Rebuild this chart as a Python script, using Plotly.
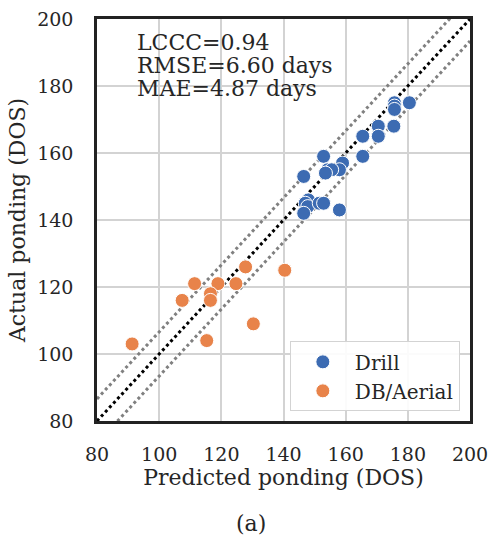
import plotly.graph_objects as go

drill_pred = [175.7, 175.7, 175.7, 180.5, 170.5, 175.5, 170.5, 165.5, 152.9, 165.5,
              159.0, 154.2, 158.0, 155.5, 146.5, 148.0, 147.0, 147.8, 151.5, 152.9,
              146.5, 158.0, 153.5]
drill_act = [175.0, 174.0, 173.0, 175.0, 168.0, 168.0, 165.0, 165.0, 159.0, 159.0,
             157.0, 155.0, 155.0, 155.0, 153.0, 146.0, 145.0, 144.0, 145.0, 145.0,
             142.0, 143.0, 154.0]
db_pred = [127.8, 140.4, 111.4, 118.9, 124.7, 116.5, 116.5, 107.4, 130.3, 115.3, 91.3]
db_act = [126.0, 125.0, 121.0, 121.0, 121.0, 118.0, 116.0, 116.0, 109.0, 104.0, 103.0]

rmse = 6.60
line_x = [80, 200]
stats_lines = ["LCCC=0.94", "RMSE=6.60 days", "MAE=4.87 days"]
x_ticks = [80, 100, 120, 140, 160, 180, 200]
y_ticks = [80, 100, 120, 140, 160, 180, 200]

FONT = "DejaVu Serif"
TXT = "#262626"
fig = go.Figure()
fig.add_trace(go.Scatter(x=line_x, y=[v + rmse for v in line_x], mode="lines",
                         line=dict(color="#808080", dash="dot", width=3), showlegend=False))
fig.add_trace(go.Scatter(x=line_x, y=[v - rmse for v in line_x], mode="lines",
                         line=dict(color="#808080", dash="dot", width=3), showlegend=False))
fig.add_trace(go.Scatter(x=line_x, y=line_x, mode="lines",
                         line=dict(color="black", dash="dot", width=3), showlegend=False))
fig.add_trace(go.Scatter(x=drill_pred, y=drill_act, mode="markers", name="Drill",
                         marker=dict(color="#3C6BB2", size=14, line=dict(color="white", width=1))))
fig.add_trace(go.Scatter(x=db_pred, y=db_act, mode="markers", name="DB/Aerial",
                         marker=dict(color="#E8834A", size=14, line=dict(color="white", width=1))))

for i, t in enumerate(stats_lines):
    fig.add_annotation(x=0.103, y=0.9403 - i * 0.0572, xref="paper", yref="paper", text=t,
                       showarrow=False, xanchor="left", yanchor="middle", align="left",
                       font=dict(family=FONT, size=22, color=TXT))
fig.add_annotation(x=0.412, y=-0.254, xref="paper", yref="paper", text="(a)", showarrow=False,
                   xanchor="center", yanchor="middle", font=dict(family=FONT, size=22, color=TXT))

axis_common = dict(showgrid=True, gridcolor="#d3d3d3", gridwidth=2, zeroline=False,
                   showline=True, linecolor="#222", linewidth=2.5, mirror=True,
                   ticks="outside", tickcolor="rgba(0,0,0,0)", automargin=False,
                   tickfont=dict(family=FONT, size=19, color=TXT))
fig.update_xaxes(range=[80, 200], tickvals=x_ticks, ticklen=14,
                 title=dict(text="Predicted ponding (DOS)",
                            font=dict(family=FONT, size=22, color=TXT), standoff=4), **axis_common)
fig.update_yaxes(range=[80, 200], tickvals=y_ticks, ticklen=17,
                 title=dict(text="Actual ponding (DOS)",
                            font=dict(family=FONT, size=22, color=TXT), standoff=6), **axis_common)

fig.update_layout(width=489, height=536, margin=dict(l=97, r=19, t=19, b=115),
                  plot_bgcolor="white", paper_bgcolor="white",
                  legend=dict(x=0.517, y=0.024, xanchor="left", yanchor="bottom",
                              bgcolor="rgba(255,255,255,0.9)", bordercolor="#d3d3d3", borderwidth=1,
                              itemwidth=54,
                              font=dict(family=FONT, size=20, color=TXT)))
fig.write_html("out.html")
